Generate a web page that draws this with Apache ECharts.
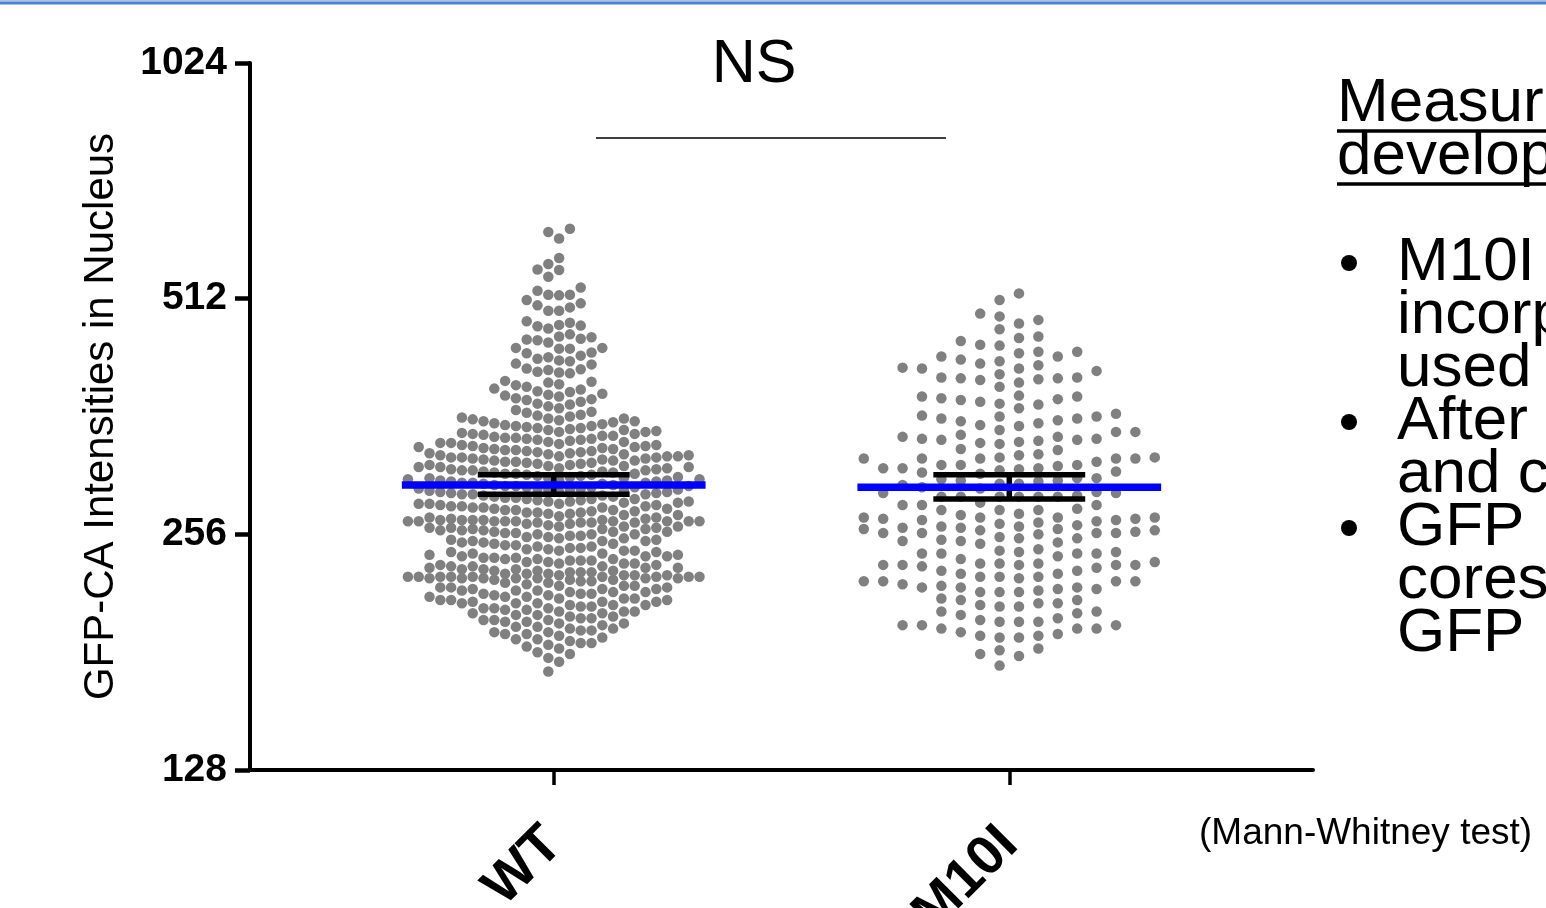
<!DOCTYPE html>
<html>
<head>
<meta charset="utf-8">
<script src="https://cdn.jsdelivr.net/npm/echarts@6/dist/echarts.min.js"></script>
<style>html,body{margin:0;padding:0;background:#fff;overflow:hidden}#c{width:1546px;height:908px}</style>
</head>
<body>
<div id="c"></div>
<script>
// ---------------- data ----------------
const categories = ['WT', 'M10I'];
const categoryPos = [2, 5];
const yTicks = [128, 256, 512, 1024];
const yTitle = 'GFP-CA Intensities in Nucleus';

const wtValues = [
  629, 623, 611, 577, 567, 558, 557, 546, 529, 524, 518, 518, 517, 510, 505, 502, 499, 494, 494,
  479, 477, 474, 473, 472, 469, 461, 458, 457, 455, 454, 453, 450, 443, 443, 442, 442,
  437, 436, 433, 431, 429, 427, 426, 423, 422, 417, 416, 415, 413, 412, 411,
  402, 401, 400, 398, 397, 395, 393, 392, 390, 389, 387, 386, 385, 384, 382, 381, 380, 378, 376, 375,
  373, 371, 369, 367, 366, 364, 363, 362, 361, 360, 360, 359, 358, 357, 357, 356, 355, 354, 353,
  352, 352, 351, 350, 350, 349, 348, 348, 347, 346, 346, 345, 344, 344, 343,
  342, 342, 341, 340, 340, 339, 339, 338, 338, 337, 336, 336, 335, 335, 334, 333, 333,
  332, 332, 331, 331, 330, 330, 329, 329, 328, 328, 327, 327, 326, 326, 325, 325, 324, 324, 323, 323,
  322, 322, 322, 321, 321, 321, 320, 320, 319, 319, 318, 318, 318, 317, 317, 316, 316, 315, 315, 314, 314,
  313, 313, 312, 312, 312, 311, 311, 310, 310, 309, 309, 309, 308, 308, 307, 307, 306, 306, 306, 305, 305,
  304, 304, 303, 303, 302, 302, 302, 301, 301, 300, 300, 300, 299, 299, 298, 298, 298, 297, 297, 296, 296,
  295, 295, 295, 294, 294, 294, 293, 293, 293, 292, 292, 292, 291, 291, 290, 290, 290, 289, 289, 288, 288, 288,
  287, 287, 286, 286, 285, 285, 284, 284, 284, 283, 283, 282, 282, 282, 281, 281, 280, 280, 280, 279, 279,
  278, 278, 278, 277, 277, 277, 276, 276, 275, 275, 275, 274, 274, 273, 273, 273, 272, 272, 271, 271,
  270, 269, 269, 268, 268, 267, 267, 267, 267, 267, 266, 266, 266, 266, 266, 266, 266, 266, 266, 265, 265, 265, 265, 264, 264, 263,
  262, 262, 262, 261, 261, 261, 260, 260, 260, 259, 259, 259, 258, 258, 258, 257, 257, 256, 256, 256,
  255, 255, 254, 254, 253, 253, 252, 252, 251, 251, 251, 250, 250, 249, 249, 248,
  248, 247, 247, 246, 246, 245, 245, 244, 244, 244, 243, 243, 242, 242, 241, 241,
  240, 240, 240, 239, 239, 239, 238, 238, 238, 237, 237, 237, 236, 236, 235, 235, 235, 234, 234,
  233, 233, 233, 232, 232, 232, 231, 231, 231, 230, 230, 230, 229, 229, 229, 228, 228, 228, 227, 227,
  227, 227, 226, 226, 226, 226, 226, 226, 226, 226, 226, 225, 225, 225, 225, 225, 225, 225, 224, 224, 224, 223, 223, 222, 222, 221,
  220, 220, 220, 219, 219, 219, 218, 218, 218, 217, 217, 217, 216, 216, 216, 215, 215, 215, 214,
  214, 213, 213, 213, 212, 212, 212, 211, 211, 211, 210, 210, 210, 209, 209, 209, 208, 208,
  208, 207, 207, 206, 206, 206, 205, 205, 204, 204, 204, 203, 203, 202, 202,
  201, 201, 200, 200, 199, 199, 199, 198, 198, 197, 197, 196,
  195, 195, 194, 194, 193, 193, 192, 192, 191, 191,
  190, 189, 188, 188, 187, 186, 186, 185,
  184, 183, 181, 180, 178, 176, 171
];

const m10iValues = [
  265,
  275, 261, 253, 235, 226,
  339, 328, 314, 299, 286, 269, 257, 242, 230, 218,
  417, 384, 365, 343, 323, 313, 302, 290, 281, 272, 263, 251, 240, 233, 219, 208, 199, 192,
  438, 404, 375, 362, 346, 334, 320, 311, 301, 289, 279, 268, 259, 243, 234, 223, 194,
  456, 428, 414, 400, 384, 371, 360, 348, 337, 321, 311, 296, 267, 259, 251, 243, 225, 218, 211, 204, 196, 189,
  476, 452, 432, 418, 405, 382, 358, 346, 335, 320, 309, 294, 275, 266, 257, 245, 235, 223, 216, 207, 198, 190, 180,
  510, 486, 446, 426, 403, 376, 360, 336, 321, 306, 286, 275, 264, 256, 238, 230, 220, 209, 196, 189, 183, 174,
  520, 481, 436, 421, 406, 380, 355, 338, 324, 314, 300, 289, 279, 269, 257, 249, 234, 219, 211, 204, 191, 179,
  490, 468, 447, 432, 410, 395, 381, 363, 352, 338, 320, 310, 297, 286, 268, 258, 250, 242, 234, 223, 216, 207, 198, 182,
  458, 405, 378, 353, 341, 320, 308, 297, 286, 269, 261, 232, 223, 216, 209, 202, 196, 190,
  438, 423, 406, 362, 329, 317, 307, 293, 279, 269, 260, 252, 242, 234, 226, 219, 212, 200, 194,
  417, 385, 357, 339, 320, 311, 302, 286, 276, 262, 254, 244, 236, 228, 221, 203, 194,
  341, 314, 300, 287, 267, 257, 242, 234, 226, 217, 198,
  286, 271, 262, 253, 235, 228,
  260
];

const centerValues = [296, 294];   // blue lines
const errorLow = [288, 284];       // black error bar bottoms
const errorHigh = [305, 305];      // black error bar tops

// ---------------- layout ----------------
const CW = 1546;
const GRID = { left: 250, top: 63, width: 1063, height: 707 };
const plotW = GRID.width;
const plotH = GRID.height;
const X_MIN = 0, X_MAX = 7;
const pxPerX = plotW / (X_MAX - X_MIN);
const logMin = Math.log2(yTicks[0]), logMax = Math.log2(yTicks[yTicks.length - 1]);
function valueToPx(v) { return GRID.top + plotH * (logMax - Math.log2(v)) / (logMax - logMin); }

// column-based beeswarm (each dot goes to the free column nearest the centre)
function swarm(values, center, nCols, stepPx, minGap, prefGap) {
  const sorted = values.slice().sort((a, b) => a - b);
  const mid = (nCols - 1) / 2;
  const base = [];
  for (let i = 0; i < nCols; i++) base.push(i);
  base.sort((a, b) => Math.abs(a - mid) - Math.abs(b - mid) || a - b);
  const alt = base.slice();
  for (let i = 0; i + 1 < alt.length; i += 2) { const t = alt[i]; alt[i] = alt[i + 1]; alt[i + 1] = t; }
  const last = new Array(nCols).fill(Infinity);
  const out = [];
  let flip = false;
  for (const v of sorted) {
    const py = valueToPx(v);
    const order = flip ? alt : base;
    let pick = -1;
    for (const c of order) if (last[c] - py >= prefGap) { pick = c; break; }
    if (pick < 0) for (const c of order) if (last[c] - py >= minGap) { pick = c; break; }
    if (pick < 0) {
      let best = -Infinity;
      for (const c of order) { if (last[c] - py > best) { best = last[c] - py; pick = c; } }
    }
    last[pick] = py;
    flip = !flip;
    out.push([center + (pick - mid) * stepPx / pxPerX, v]);
  }
  return out;
}

const wtPoints = swarm(wtValues, categoryPos[0], 28, 10.8, 10.5, 11.5);
const m10iPoints = swarm(m10iValues, categoryPos[1], 16, 19.4, 10.5, 12.5);

const FONT = 'Arial, "Liberation Sans", Helvetica, sans-serif';

function seg(x1, y1, x2, y2, color, width, z) {
  return {
    type: 'line', data: [[x1, y1], [x2, y2]], symbol: 'none', silent: true, z: z,
    lineStyle: { color: color, width: width, cap: 'butt' }, animation: false
  };
}

const series = [
  { type: 'scatter', data: wtPoints, symbolSize: 10.5, itemStyle: { color: '#808080', opacity: 1 }, z: 2, silent: true },
  { type: 'scatter', data: m10iPoints, symbolSize: 10.5, itemStyle: { color: '#808080', opacity: 1 }, z: 2, silent: true }
];
for (let i = 0; i < categoryPos.length; i++) {
  const p = categoryPos[i];
  series.push(seg(p - 0.5, errorHigh[i], p + 0.5, errorHigh[i], '#000', 5.5, 3));
  series.push(seg(p - 0.5, errorLow[i], p + 0.5, errorLow[i], '#000', 5.5, 3));
  series.push(seg(p, errorLow[i], p, errorHigh[i], '#000', 5.5, 3));
  series.push(seg(p - 1, centerValues[i], p + 1, centerValues[i], '#0000ff', 7.5, 4));
}

// right-side text lines
const sideLines = [
  { t: 'Measur', x: 1337, y: 104 },
  { t: 'develop', x: 1337, y: 157 },
  { t: 'M10I', x: 1397, y: 263 },
  { t: 'incorp', x: 1397, y: 316 },
  { t: 'used', x: 1397, y: 369 },
  { t: 'After', x: 1397, y: 422 },
  { t: 'and c', x: 1397, y: 475 },
  { t: 'GFP', x: 1397, y: 528 },
  { t: 'cores', x: 1397, y: 581 },
  { t: 'GFP', x: 1397, y: 634 }
];
const bulletYs = [263, 422, 528];

const graphics = [
  { type: 'rect', shape: { x: 0, y: 0, width: CW, height: 1.5 }, style: { fill: '#a9c1e8' }, silent: true },
  { type: 'rect', shape: { x: 0, y: 1.5, width: CW, height: 3 }, style: { fill: '#4f80d3' }, silent: true },
  { type: 'text', x: 754, y: 65, style: { text: 'NS', fontSize: 61, fontFamily: FONT, fill: '#000',
      textAlign: 'center', textVerticalAlign: 'middle', align: 'center', verticalAlign: 'middle' } },
  { type: 'line', shape: { x1: 596, y1: 138, x2: 946, y2: 138 }, style: { stroke: '#000', lineWidth: 1.3 } },
  { type: 'text', x: 1199, y: 834, style: { text: '(Mann-Whitney test)', fontSize: 37, fontFamily: FONT, fill: '#000',
      textAlign: 'left', textVerticalAlign: 'middle', align: 'left', verticalAlign: 'middle' } },
  { type: 'line', shape: { x1: 1337, y1: 131, x2: 1546, y2: 131 }, style: { stroke: '#000', lineWidth: 3.5 } },
  { type: 'line', shape: { x1: 1337, y1: 184, x2: 1546, y2: 184 }, style: { stroke: '#000', lineWidth: 3.5 } }
];
sideLines.forEach(l => graphics.push({
  type: 'text', x: l.x, y: l.y,
  style: { text: l.t, fontSize: 62, fontFamily: FONT, fill: '#000',
    textAlign: 'left', textVerticalAlign: 'middle', align: 'left', verticalAlign: 'middle' }
}));
bulletYs.forEach(y => graphics.push({ type: 'circle', shape: { cx: 1349, cy: y, r: 8 }, style: { fill: '#000' } }));

const chart = echarts.init(document.getElementById('c'), null, { renderer: 'canvas' });
chart.setOption({
  animation: false,
  backgroundColor: '#ffffff',
  grid: { left: GRID.left, top: GRID.top, width: GRID.width, height: GRID.height,
          containLabel: false, outerBoundsMode: 'none' },
  xAxis: {
    type: 'value', min: X_MIN, max: X_MAX,
    axisLine: { show: true, onZero: false, lineStyle: { color: '#000', width: 4 } },
    axisTick: { show: true, customValues: categoryPos, length: 15, lineStyle: { color: '#000', width: 3.5 } },
    axisLabel: {
      show: true, customValues: categoryPos, rotate: 45, margin: 66,
      formatter: v => { const i = categoryPos.indexOf(v); return i >= 0 ? categories[i] : ''; },
      fontSize: 55, fontWeight: 'bold', fontFamily: FONT, color: '#000'
    },
    splitLine: { show: false }
  },
  yAxis: {
    type: 'log', logBase: 2, min: yTicks[0], max: yTicks[yTicks.length - 1],
    name: yTitle, nameLocation: 'middle', nameRotate: 90, nameGap: 128,
    nameTextStyle: { fontSize: 42, fontFamily: FONT, color: '#000' },
    axisLine: { show: true, lineStyle: { color: '#000', width: 4 } },
    axisTick: { show: true, length: 15, lineStyle: { color: '#000', width: 4.5 } },
    axisLabel: { fontSize: 39, fontWeight: 'bold', fontFamily: FONT, color: '#000', margin: 23,
                 formatter: v => String(Math.round(v)) },
    splitLine: { show: false }
  },
  series: series,
  graphic: { elements: graphics }
});
</script>
</body>
</html>
